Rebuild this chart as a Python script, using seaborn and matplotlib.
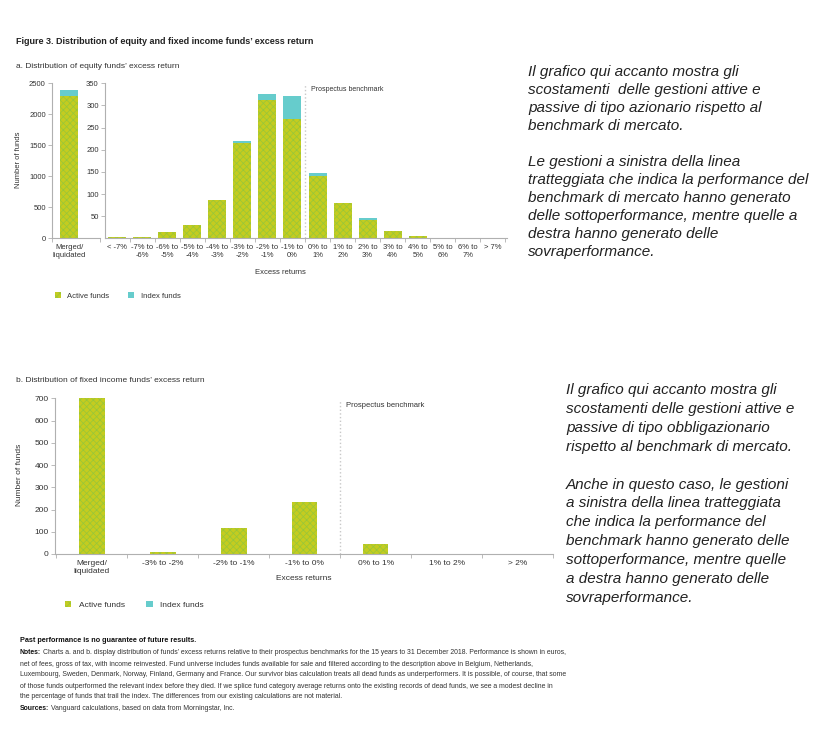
import matplotlib
matplotlib.use("Agg")
import matplotlib.pyplot as plt
from matplotlib.patches import Patch
import seaborn as sns

# ---- data ----
eq_cats = ["< -7%", "-7% to\n-6%", "-6% to\n-5%", "-5% to\n-4%", "-4% to\n-3%",
           "-3% to\n-2%", "-2% to\n-1%", "-1% to\n0%", "0% to\n1%", "1% to\n2%",
           "2% to\n3%", "3% to\n4%", "4% to\n5%", "5% to\n6%", "6% to\n7%", "> 7%"]
eq_active = [2, 2, 15, 30, 86, 216, 312, 269, 141, 79, 42, 16, 6, 0, 0, 0]
eq_index = [0, 0, 0, 0, 0, 4, 14, 52, 6, 0, 3, 0, 0, 0, 0, 0]

merged_cat = ["Merged/\nliquidated"]
eq_merged_active = [2290]
eq_merged_index = [95]

fi_cats = ["Merged/\nliquidated", "-3% to -2%", "-2% to -1%", "-1% to 0%",
           "0% to 1%", "1% to 2%", "> 2%"]
fi_active = [705, 7, 117, 232, 45, 1, 0]
fi_index = [13, 0, 0, 0, 0, 0, 0]

eq_ticks_left = [0, 500, 1000, 1500, 2000, 2500]
eq_ticks_right = [50, 100, 150, 200, 250, 300, 350]
fi_ticks = [0, 100, 200, 300, 400, 500, 600, 700]

text_top = ["Il grafico qui accanto mostra gli",
            "scostamenti  delle gestioni attive e",
            "passive di tipo azionario rispetto al",
            "benchmark di mercato.",
            "",
            "Le gestioni a sinistra della linea",
            "tratteggiata che indica la performance del",
            "benchmark di mercato hanno generato",
            "delle sottoperformance, mentre quelle a",
            "destra hanno generato delle",
            "sovraperformance."]
text_bottom = ["Il grafico qui accanto mostra gli",
               "scostamenti delle gestioni attive e",
               "passive di tipo obbligazionario",
               "rispetto al benchmark di mercato.",
               "",
               "Anche in questo caso, le gestioni",
               "a sinistra della linea tratteggiata",
               "che indica la performance del",
               "benchmark hanno generato delle",
               "sottoperformance, mentre quelle",
               "a destra hanno generato delle",
               "sovraperformance."]
notes = ["Charts a. and b. display distribution of funds\u2019 excess returns relative to their prospectus benchmarks for the 15 years to 31 December 2018. Performance is shown in euros,",
         "net of fees, gross of tax, with income reinvested. Fund universe includes funds available for sale and filtered according to the description above in Belgium, Netherlands,",
         "Luxembourg, Sweden, Denmark, Norway, Finland, Germany and France. Our survivor bias calculation treats all dead funds as underperformers. It is possible, of course, that some",
         "of those funds outperformed the relevant index before they died. If we splice fund category average returns onto the existing records of dead funds, we see a modest decline in",
         "the percentage of funds that trail the index. The differences from our existing calculations are not material."]
sources = "Vanguard calculations, based on data from Morningstar, Inc."

sns.set_style("white")
plt.rcParams['font.family'] = ['Liberation Sans', 'DejaVu Sans']
plt.rcParams['hatch.linewidth'] = 0.5

GREEN = "#c4cc20"
HATCH = "#96c63a"
CYAN = "#66cccc"
GREY = "#b0b0b0"
TXT = "#333333"

W, H = 820, 733
fig = plt.figure(figsize=(W / 100, H / 100), dpi=100)


def fx(px):
    return px / W


def fy(px):
    return 1 - px / H


def stacked(ax, cats, active, index, width):
    # index funds drawn as the full stack, active funds over them
    total = [a + i for a, i in zip(active, index)]
    sns.barplot(x=cats, y=total, color=CYAN, saturation=1, width=width,
                errorbar=None, linewidth=0, ax=ax)
    sns.barplot(x=cats, y=active, color=GREEN, saturation=1, width=width,
                errorbar=None, linewidth=0, hatch="xxxxx", edgecolor=HATCH, ax=ax)


def style(ax, n):
    for s in ["top", "right"]:
        ax.spines[s].set_visible(False)
    ax.spines["left"].set_color(GREY)
    ax.spines["bottom"].set_color(GREY)
    ax.spines["left"].set_linewidth(0.8)
    ax.spines["bottom"].set_linewidth(0.8)
    ax.tick_params(axis="y", length=3, width=0.6, color=GREY, labelsize=5.5,
                   labelcolor=TXT, pad=1.5, left=True)
    ax.tick_params(axis="x", which="major", length=0, labelsize=5.5,
                   labelcolor=TXT, pad=4)
    ax.set_xticks([i - 0.5 for i in range(n + 1)], minor=True)
    ax.tick_params(axis="x", which="minor", length=3, width=0.6, color=GREY,
                   bottom=True)
    ax.set_xlabel("")
    ax.set_ylabel("")


# ---- chart a ----
y0a, y1a = 238.3, 83.3
ax_m = fig.add_axes([fx(52), fy(y0a), fx(48), (y0a - y1a) / H])
stacked(ax_m, merged_cat, eq_merged_active, eq_merged_index, 0.72)
style(ax_m, 1)
ax_m.set_xlim(-0.68, 1.24)
ax_m.set_ylim(0, 2500)
ax_m.set_yticks(eq_ticks_left)
ax_m.set_xticks([-0.68, 1.24], minor=True)

ax_r = fig.add_axes([fx(105), fy(y0a), fx(402), (y0a - y1a) / H])
stacked(ax_r, eq_cats, eq_active, eq_index, 0.72)
style(ax_r, len(eq_cats))
ax_r.set_xlim(-0.48, 15.56)
ax_r.set_ylim(0, 350)
ax_r.set_yticks(eq_ticks_right)
ax_r.axvline(7.5, ymin=0, ymax=0.99, color="#c8c8c8", ls=":", lw=1.0)
ax_r.text(7.75, 335, "Prospectus benchmark", fontsize=5, color=TXT, va="center")

fig.text(fx(16), fy(42), "Figure 3. Distribution of equity and fixed income funds\u2019 excess return",
         fontsize=6.5, fontweight="bold", color="#222222", va="center")
fig.text(fx(16), fy(66), "a. Distribution of equity funds\u2019 excess return",
         fontsize=6, color=TXT, va="center")
fig.text(fx(19), fy(160), "Number of funds", rotation=90, fontsize=5.5, color=TXT,
         ha="center", va="center")
fig.text(fx(280), fy(273), "Excess returns", fontsize=5.5, color=TXT,
         ha="center", va="center")

handles = [Patch(facecolor=GREEN, edgecolor=HATCH, hatch="xxxxx", linewidth=0),
           Patch(facecolor=CYAN, linewidth=0)]
fig.legend(handles, ["Active funds", "Index funds"], loc="center left",
           bbox_to_anchor=(fx(48), fy(296)), ncol=2, frameon=False, fontsize=5.5,
           handlelength=0.8, handleheight=0.8, handletextpad=0.8, columnspacing=2.5,
           labelcolor=TXT)

# ---- chart b ----
y0b, y1b = 554, 398.3
ax_b = fig.add_axes([fx(55), fy(y0b), fx(498), (y0b - y1b) / H])
stacked(ax_b, fi_cats, fi_active, fi_index, 0.36)
style(ax_b, len(fi_cats))
ax_b.set_xlim(-0.52, 6.5)
ax_b.set_ylim(0, 700)
ax_b.set_yticks(fi_ticks)
ax_b.tick_params(axis="both", labelsize=6)
ax_b.axvline(3.5, ymin=0, ymax=0.99, color="#c8c8c8", ls=":", lw=1.0)
ax_b.text(3.58, 667, "Prospectus benchmark", fontsize=5.5, color=TXT, va="center")

fig.text(fx(16), fy(380), "b. Distribution of fixed income funds\u2019 excess return",
         fontsize=6, color=TXT, va="center")
fig.text(fx(20), fy(475), "Number of funds", rotation=90, fontsize=6, color=TXT,
         ha="center", va="center")
fig.text(fx(304), fy(578), "Excess returns", fontsize=6, color=TXT,
         ha="center", va="center")
fig.legend(handles, ["Active funds", "Index funds"], loc="center left",
           bbox_to_anchor=(fx(57), fy(605)), ncol=2, frameon=False, fontsize=6,
           handlelength=0.8, handleheight=0.8, handletextpad=0.9, columnspacing=2.6,
           labelcolor=TXT)

# ---- commentary text on the right ----
for i, line in enumerate(text_top):
    fig.text(fx(528), fy(72 + 18 * i), line, fontsize=11, style="italic",
             color="#222222", va="center")
for i, line in enumerate(text_bottom):
    fig.text(fx(566), fy(390 + 18.9 * i), line, fontsize=11, style="italic",
             color="#222222", va="center")

# ---- footnotes ----
NS = 4.95
fig.text(fx(20), fy(640), "Past performance is no guarantee of future results.",
         fontsize=5.2, fontweight="bold", color="#111111", va="center")
lab = fig.text(fx(20), fy(653), "Notes:", fontsize=NS, fontweight="bold",
               color="#111111", va="center")
plt.annotate(notes[0], xy=(1, 0.5), xycoords=lab, xytext=(1.5, 0),
             textcoords="offset points", va="center", ha="left",
             fontsize=NS, color=TXT, annotation_clip=False)
for i, line in enumerate(notes[1:], start=1):
    fig.text(fx(20), fy(653 + 11 * i), line, fontsize=NS, color=TXT, va="center")
slab = fig.text(fx(20), fy(709), "Sources:", fontsize=NS, fontweight="bold",
                color="#111111", va="center")
plt.annotate(sources, xy=(1, 0.5), xycoords=slab, xytext=(1.5, 0),
             textcoords="offset points", va="center", ha="left",
             fontsize=NS, color=TXT, annotation_clip=False)

fig.savefig("out.png", dpi=100)
